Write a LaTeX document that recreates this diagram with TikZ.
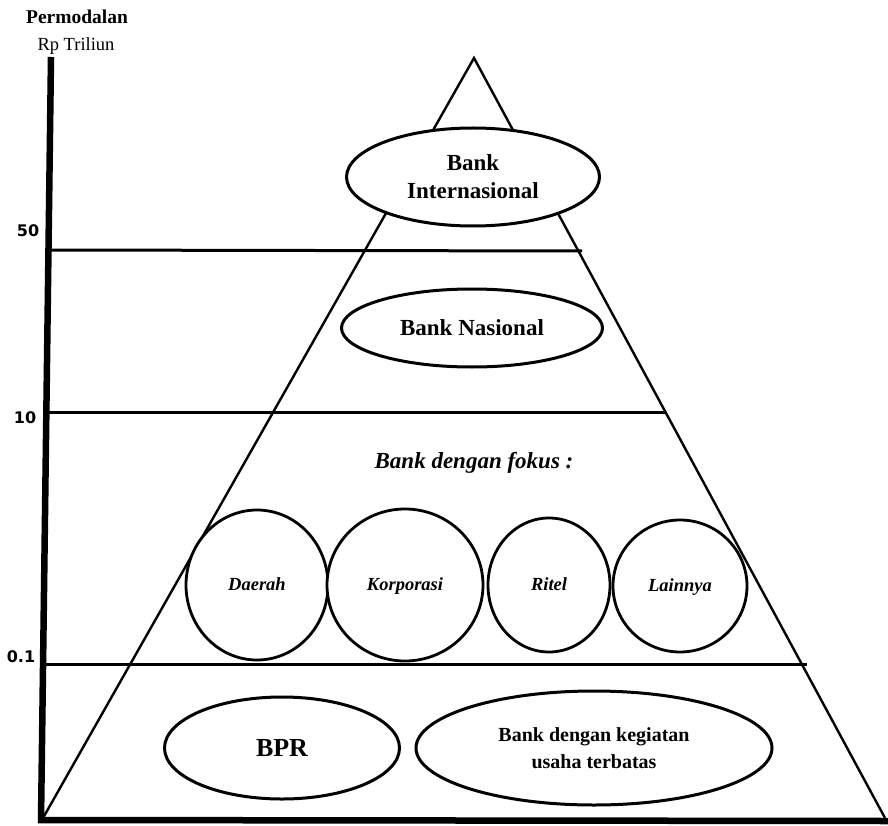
\documentclass[tikz,border=0pt]{standalone}
\usepackage{fontspec}
\setmainfont{Liberation Serif}
\newfontfamily\numfont{DejaVu Sans}
\usetikzlibrary{shapes.geometric}
\usetikzlibrary{positioning}
\tikzstyle{bankoval} = [draw, ellipse, fill=white, line width=3pt, inner sep=0pt,
 align=center, font=\fontsize{23}{28}\selectfont\bfseries]
\tikzstyle{focuscircle} = [draw, ellipse, fill=white, line width=2.8pt, inner sep=0pt,
 text height=13pt, text depth=3pt, font=\fontsize{18.5}{22}\selectfont\bfseries\itshape]
\tikzstyle{bandline} = [line width=3pt]
\tikzstyle{pyramid} = [line width=2.4pt, line join=miter]
\tikzstyle{axisline} = [line width=6.5pt]
\tikzstyle{scalelabel} = [inner sep=0pt, font=\numfont\fontsize{16}{18}\selectfont\bfseries]

\begin{document}
\begin{tikzpicture}[x=1pt, y=-1pt]
 	\useasboundingbox (0,0) rectangle (888,826);
 	
 	% axis and pyramid corners
 	\node [coordinate] (ytop) at (51,57) {};
 	\node [coordinate] (ybot) at (41,821) {};
 	\node [coordinate] (xleft) at (38,820) {};
 	\node [coordinate] (xright) at (888,821) {};
 	\node [coordinate] (apex) at (474,58) {};
 	\node [coordinate] (baseL) at (43,818) {};
 	\node [coordinate] (baseR) at (885,818) {};
 	
 	% ends of the band lines
 	\node [coordinate] (l50) at (48,250) {};
 	\node [coordinate] (r50) at (582,251) {};
 	\node [coordinate] (l10) at (46,412) {};
 	\node [coordinate] (r10) at (665,412) {};
 	\node [coordinate] (l01) at (42,664) {};
 	\node [coordinate] (r01) at (807,664) {};
 	
 	\draw [pyramid] (baseL) -- (apex) -- (baseR);
 	\draw [bandline] (l50) -- (r50);
 	\draw [bandline] (l10) -- (r10);
 	\draw [bandline] (l01) -- (r01);
 	\draw [axisline] (ytop) -- (ybot);
 	\draw [axisline] (xleft) -- (xright);
 	
 	\node [font=\fontsize{19.5}{22}\selectfont\bfseries] (title) at (77,17) {Permodalan};
 	\node [font=\fontsize{18.5}{20}\selectfont] (unit) at (76,46) {Rp Triliun};
 	
 	\node [scalelabel] (s50) at (28,231) {50};
 	\node [scalelabel] (s10) at (25,418) {10};
 	\node [scalelabel] (s01) at (21,657) {0.1};
 	
 	\node [bankoval, minimum width=253pt, minimum height=98pt] (bi) at (473,177) {Bank\\Internasional};
 	\node [bankoval, minimum width=261pt, minimum height=78pt] (bn) at (472,328) {Bank Nasional};
 	
 	\node [font=\fontsize{23}{28}\selectfont\bfseries\itshape] (fokus) at (474,463) {Bank dengan fokus :};
 	
 	\node [focuscircle, minimum width=142pt, minimum height=150pt] (daerah) at (257,585) {Daerah};
 	\node [focuscircle, minimum width=156pt, minimum height=152pt] (korp) at (405,585) {Korporasi};
 	\node [focuscircle, minimum width=122pt, minimum height=134pt] (ritel) at (549,585) {Ritel};
 	\node [focuscircle, minimum width=134pt, minimum height=132pt] (lain) at (680,586) {Lainnya};
 	
 	\node [bankoval, minimum width=235pt, minimum height=102pt, font=\fontsize{26}{30}\selectfont\bfseries] (bpr) at (282,748) {BPR};
 	\node [bankoval, minimum width=356pt, minimum height=114pt, font=\fontsize{20}{27}\selectfont\bfseries] (terbatas) at (594,748) {Bank dengan kegiatan\\usaha terbatas};
 	
\end{tikzpicture}
\end{document}
